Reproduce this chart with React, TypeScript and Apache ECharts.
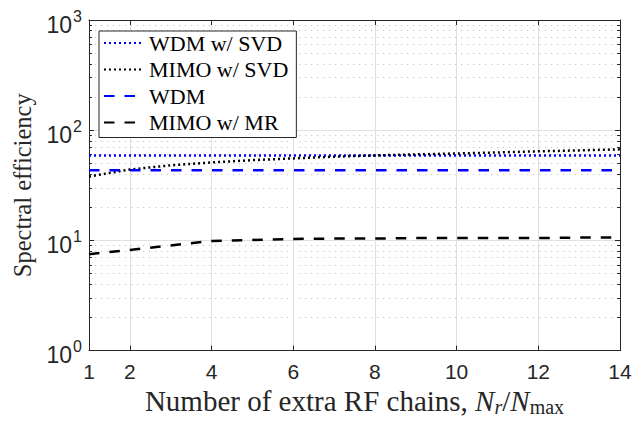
import React, { useEffect, useRef } from "react";
import * as echarts from "echarts";

const xValues = [1, 2, 3, 4, 5, 6, 7, 8, 9, 10, 11, 12, 13, 14];
const wdmSvd = [59, 59, 59, 59, 59, 59, 59, 59, 59, 59, 59, 59, 59, 59];
const mimoSvd = [38, 44, 48, 51, 53.5, 55.5, 57.5, 59, 60.3, 61.5, 62.8, 64.3, 65.6, 67];
const wdm = [43.2, 43.2, 43.2, 43.2, 43.2, 43.2, 43.2, 43.2, 43.2, 43.2, 43.2, 43.2, 43.2, 43.2];
const mimoMr = [7.5, 8.2, 9.0, 9.9, 10.1, 10.3, 10.4, 10.4, 10.5, 10.5, 10.5, 10.5, 10.6, 10.6];
const seriesNames = ["WDM w/ SVD", "MIMO w/ SVD", "WDM", "MIMO w/ MR"];
const xTicks = [1, 2, 4, 6, 8, 10, 12, 14];
const yMinorTicks = [2, 3, 4, 5, 6, 7, 8, 9, 20, 30, 40, 50, 60, 70, 80, 90, 200, 300, 400, 500, 600, 700, 800, 900];

const AX = "#262626";
const SERIF = "'Liberation Serif', 'DejaVu Serif', serif";
const SANS = "'Liberation Sans', Arial, sans-serif";

export default function App() {
  const ref = useRef<HTMLDivElement>(null);
  useEffect(() => {
    if (!ref.current) return;
    const chart = echarts.init(ref.current, undefined, { renderer: "svg" });
    const pairs = (ys: number[]) => xValues.map((x, i) => [x, ys[i]]);
    const grid = { left: 89, right: 20, top: 20, bottom: 64, containLabel: false };
    const logBase = {
      type: "log" as const,
      logBase: 10,
      min: 1,
      max: 1000,
    };
    chart.setOption({
      animation: false,
      backgroundColor: "#ffffff",
      grid,
      legend: {
        orient: "vertical",
        left: 99,
        top: 31,
        data: seriesNames,
        itemWidth: 40,
        itemHeight: 14,
        itemGap: 4.5,
        itemTextGap: 5,
        padding: [1, 8, 4, 4],
        backgroundColor: "#ffffff",
        borderColor: AX,
        borderWidth: 1,
        borderRadius: 0,
        itemStyle: { opacity: 0 },
        textStyle: { fontFamily: SERIF, fontSize: 22, color: "#000000", lineHeight: 22 },
        z: 10,
      },
      xAxis: [
        {
          type: "value",
          min: 1,
          max: 14,
          position: "bottom",
          axisLine: { show: true, lineStyle: { color: AX, width: 1 } },
          axisTick: { show: true, inside: true, length: 5, customValues: xTicks, lineStyle: { color: AX } },
          axisLabel: {
            show: true,
            customValues: xTicks,
            margin: 10,
            fontFamily: SANS,
            fontSize: 21,
            color: AX,
          },
          splitLine: { show: true, lineStyle: { color: "#e0e0e0", width: 1 } },
          name: "{t|Number of extra RF chains, }{i|N}{si|r}{t|/}{i|N}{sub|max}",
          nameLocation: "middle",
          nameGap: 33,
          nameTextStyle: {
            color: AX,
            rich: {
              t: { fontFamily: SERIF, fontSize: 29, color: AX },
              i: { fontFamily: SERIF, fontSize: 29, fontStyle: "italic", color: AX },
              si: { fontFamily: SERIF, fontSize: 20, fontStyle: "italic", color: AX, padding: [12, 0, 0, 0] },
              sub: { fontFamily: SERIF, fontSize: 20, color: AX, padding: [12, 0, 0, 0] },
            },
          },
        },
        {
          type: "value",
          min: 1,
          max: 14,
          position: "top",
          axisLine: { show: true, lineStyle: { color: AX, width: 1 } },
          axisTick: { show: true, inside: true, length: 5, customValues: xTicks, lineStyle: { color: AX } },
          axisLabel: { show: false },
          splitLine: { show: false },
        },
      ],
      yAxis: [
        {
          ...logBase,
          position: "left",
          axisLine: { show: true, lineStyle: { color: AX, width: 1 } },
          axisTick: { show: true, inside: true, length: 5, lineStyle: { color: AX } },
          splitLine: { show: true, lineStyle: { color: "#e0e0e0", width: 1 } },
          minorTick: { show: false },
          axisLabel: {
            show: true,
            margin: 7,
            formatter: (v: number) => `{b|10}{s|${Math.round(Math.log10(v))}}`,
            rich: {
              b: { fontFamily: SANS, fontSize: 23, color: AX, padding: [9, 0, 0, 0] },
              s: { fontFamily: SANS, fontSize: 16, color: AX, padding: [0, 0, 8, 1] },
            },
          },
          name: "Spectral efficiency",
          nameLocation: "middle",
          nameGap: 54,
          nameTextStyle: { fontFamily: SERIF, fontSize: 24.5, color: AX },
        },
        {
          ...logBase,
          position: "right",
          axisLine: { show: true, lineStyle: { color: AX, width: 1 } },
          axisTick: { show: true, inside: true, length: 5, lineStyle: { color: AX } },
          axisLabel: { show: false },
          splitLine: { show: false },
        },
        {
          ...logBase,
          position: "left",
          axisLine: { show: false },
          axisTick: { show: true, inside: true, length: 3, customValues: yMinorTicks, lineStyle: { color: AX } },
          axisLabel: { show: false },
          splitLine: { show: true, lineStyle: { color: "#c4c4c4", width: 1.2, type: [1.2, 4.8] } },
        },
        {
          ...logBase,
          position: "right",
          axisLine: { show: false },
          axisTick: { show: true, inside: true, length: 3, customValues: yMinorTicks, lineStyle: { color: AX } },
          axisLabel: { show: false },
          splitLine: { show: false },
        },
      ],
      series: [
        {
          name: seriesNames[0],
          type: "line",
          data: pairs(wdmSvd),
          symbol: "none",
          lineStyle: { color: "#0000ff", width: 2.5, type: [2, 3] },
          itemStyle: { color: "#0000ff" },
          z: 3,
        },
        {
          name: seriesNames[1],
          type: "line",
          data: pairs(mimoSvd),
          symbol: "none",
          lineStyle: { color: "#000000", width: 2.5, type: [2, 3] },
          itemStyle: { color: "#000000" },
          z: 3,
        },
        {
          name: seriesNames[2],
          type: "line",
          data: pairs(wdm),
          symbol: "none",
          lineStyle: { color: "#0000ff", width: 2.5, type: [10.5, 10] },
          itemStyle: { color: "#0000ff" },
          z: 3,
        },
        {
          name: seriesNames[3],
          type: "line",
          data: pairs(mimoMr),
          symbol: "none",
          lineStyle: { color: "#000000", width: 2.5, type: [10.5, 10] },
          itemStyle: { color: "#000000" },
          z: 3,
        },
      ],
    });
    return () => chart.dispose();
  }, []);
  return <div ref={ref} style={{ width: 640, height: 422, position: "absolute", left: 0, top: 0 }} />;
}
